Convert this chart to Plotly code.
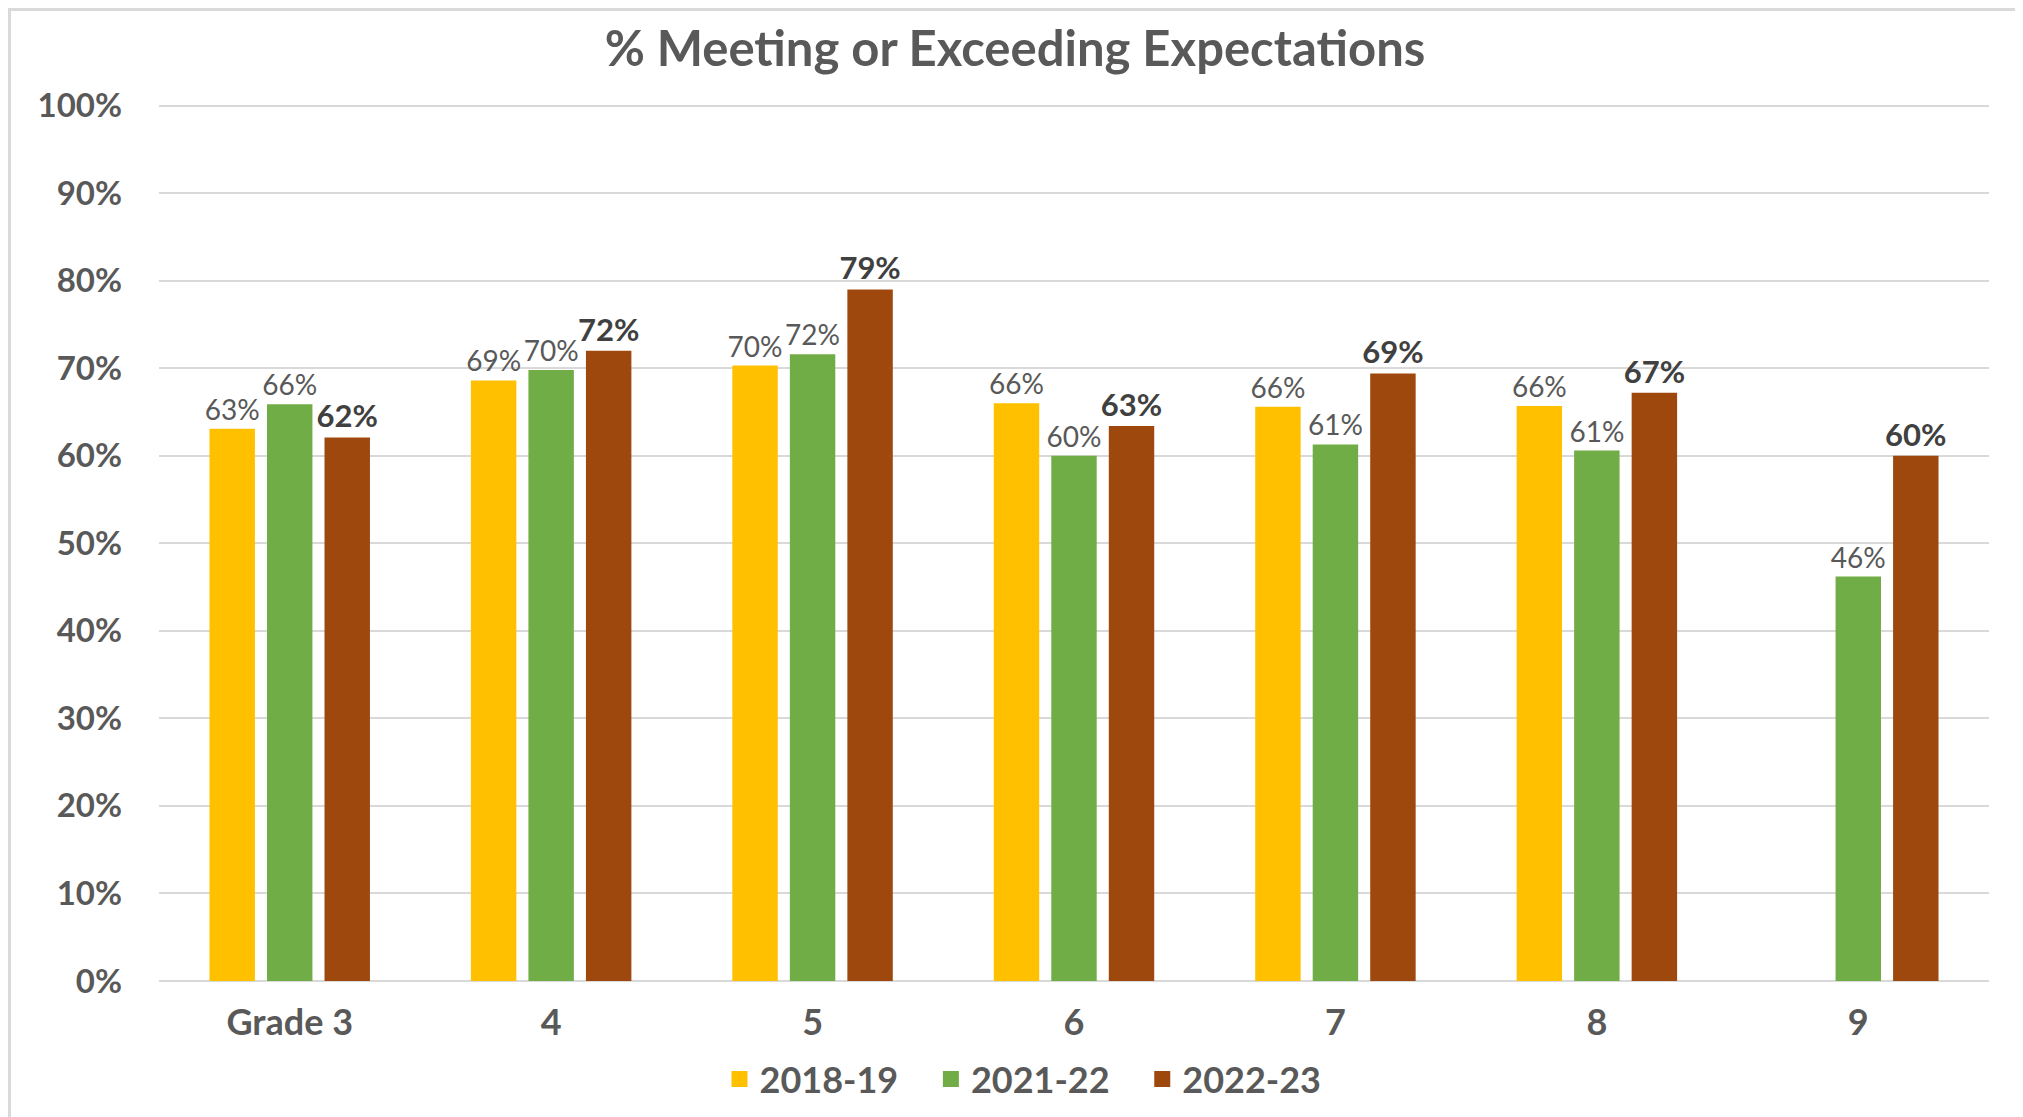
import plotly.graph_objects as go

categories = ["Grade 3", "4", "5", "6", "7", "8", "9"]
series_names = ["2018-19", "2021-22", "2022-23"]
values_2018_19 = [0.631, 0.686, 0.703, 0.660, 0.656, 0.657, None]
values_2021_22 = [0.659, 0.698, 0.716, 0.600, 0.613, 0.606, 0.462]
values_2022_23 = [0.621, 0.720, 0.790, 0.634, 0.694, 0.672, 0.600]
y_tick_values = [0, 0.1, 0.2, 0.3, 0.4, 0.5, 0.6, 0.7, 0.8, 0.9, 1.0]
y_tick_labels = ["0%", "10%", "20%", "30%", "40%", "50%", "60%", "70%", "80%", "90%", "100%"]

colors = ["#FFC000", "#70AD47", "#9E480E"]
text_gray = "#595959"
font_family = "Lato"

# page has an 8px body margin; work in figure pixels
OFF = 8
W, H = 2023, 1117
L, R, T, B = 159 - OFF, 42, 95, 144
pw, ph = W - L - R, H - T - B
Y_TOP = 1.003

def px_x(p):  # page px -> paper
    return (p - OFF - L) / pw

def px_y(p):  # page px -> paper
    return (H - B - (p - OFF)) / ph

fig = go.Figure()
all_series = [values_2018_19, values_2021_22, values_2022_23]
for i, (name, vals) in enumerate(zip(series_names, all_series)):
    bold = i == 2
    fig.add_trace(go.Bar(
        x=categories, y=vals, name=name, showlegend=False,
        marker=dict(color=colors[i], line=dict(width=0)),
        texttemplate="<b>%{y:.0%}</b>" if bold else "%{y:.0%}",
        textposition="outside",
        constraintext="none",
        cliponaxis=False,
        textfont=dict(family=font_family, size=31 if bold else 28,
                      color="#404040" if bold else text_gray),
        hoverinfo="skip",
    ))
for i, name in enumerate(series_names):
    pad = "\u00a0\u00a0\u00a0" if i < len(series_names) - 1 else ""
    fig.add_trace(go.Scatter(
        x=[None], y=[None], mode="markers", name="<b>" + name + "</b>" + pad,
        marker=dict(symbol="square", size=22, color=colors[i]),
        hoverinfo="skip",
    ))

fig.update_layout(
    width=W, height=H,
    margin=dict(l=L, r=R, t=T, b=B, autoexpand=False),
    paper_bgcolor="white", plot_bgcolor="white",
    barmode="group", bargap=0.34, bargroupgap=0.21,
    title=dict(text="<b>% Meeting or Exceeding Expectations</b>",
               x=(1015 - OFF) / W, xref="container", y=1 - (49 - OFF) / H, yref="container",
               xanchor="center", yanchor="middle",
               font=dict(family=font_family, size=49, color=text_gray)),
    xaxis=dict(showgrid=False, showline=False, ticks="",
               tickvals=categories, ticktext=["<b>" + c + "</b>" for c in categories],
               tickfont=dict(family=font_family, size=36, color=text_gray),
               ticklabelstandoff=17),
    yaxis=dict(range=[0, Y_TOP], tickvals=y_tick_values,
               ticktext=["<b>" + t + "</b>" for t in y_tick_labels],
               showgrid=True, gridcolor="#D9D9D9", gridwidth=2,
               zeroline=True, zerolinecolor="#D9D9D9", zerolinewidth=2,
               showline=False, ticks="",
               tickfont=dict(family=font_family, size=33, color=text_gray),
               ticklabelstandoff=36),
    legend=dict(orientation="h", x=px_x(1023), xanchor="center",
                y=px_y(1079), yanchor="middle", itemsizing="trace",
                font=dict(family=font_family, size=36, color=text_gray),
                itemwidth=30, tracegroupgap=0, traceorder="normal"),
    showlegend=True,
    shapes=[
        dict(type="rect", xref="paper", yref="paper",
             x0=px_x(9.5), x1=px_x(2021), y0=px_y(1135), y1=px_y(9.5),
             line=dict(color="#D9D9D9", width=3), fillcolor="rgba(0,0,0,0)", layer="below"),
    ],
)

fig.write_html("out.html")
